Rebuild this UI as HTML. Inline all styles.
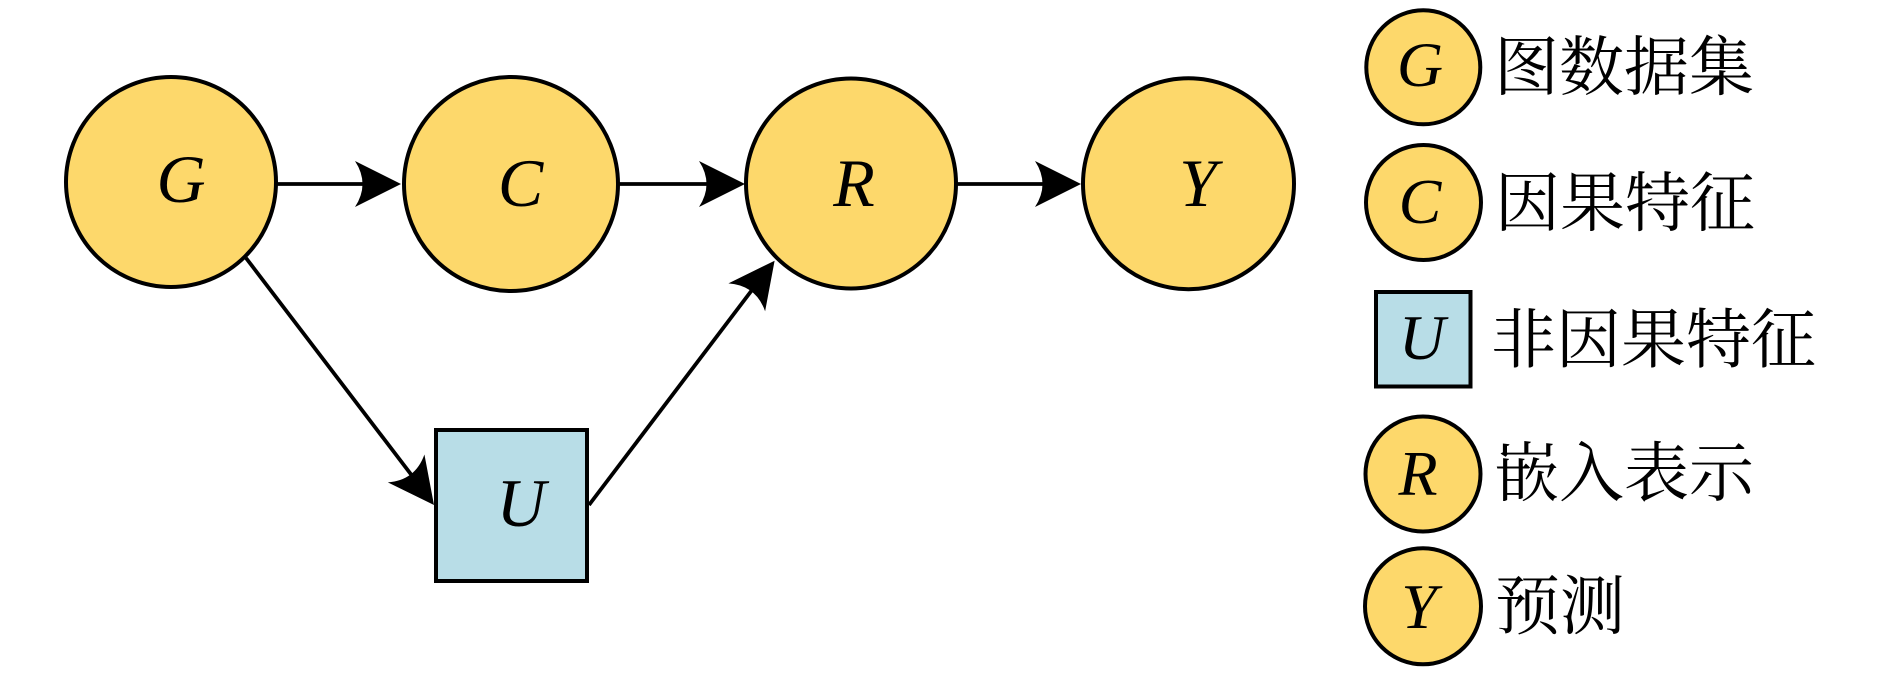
<!DOCTYPE html>
<html><head><meta charset="utf-8">
<style>
html,body{margin:0;padding:0;background:#fff;}
svg{display:block;}
</style></head>
<body>
<svg width="1890" height="676" viewBox="0 0 1890 676" xmlns="http://www.w3.org/2000/svg">
<defs>
<path id="ah" d="M0,0 L-46,-23 Q-31,0 -46,23 Z" fill="#000"/>
</defs>
<g stroke="#000" stroke-width="3.8" fill="none">
<line x1="277" y1="184" x2="370" y2="184"/>
<line x1="618" y1="184" x2="714" y2="184"/>
<line x1="956" y1="184" x2="1050" y2="184"/>
<line x1="246" y1="258" x2="413" y2="477"/>
<line x1="589" y1="505" x2="752" y2="290"/>
</g>
<use href="#ah" transform="translate(401,184)"/>
<use href="#ah" transform="translate(745,184)"/>
<use href="#ah" transform="translate(1081,184)"/>
<use href="#ah" transform="translate(434,505) rotate(52.7)"/>
<use href="#ah" transform="translate(774.6,260.7) rotate(-52.8)"/>

<g stroke="#000" stroke-width="4" fill="#FDD86B">
<circle cx="171" cy="182" r="105"/>
<circle cx="511" cy="184" r="107"/>
<circle cx="851" cy="183.5" r="105"/>
<circle cx="1188.5" cy="183.7" r="105.5"/>
<rect x="436" y="430" width="151" height="151" fill="#B8DDE7"/>
<circle cx="1423.3" cy="67.3" r="57"/>
<circle cx="1423.5" cy="202.5" r="57.5"/>
<rect x="1376" y="292" width="94.5" height="94.5" fill="#B8DDE7"/>
<circle cx="1423" cy="474" r="57.5"/>
<circle cx="1423" cy="606.3" r="58"/>
</g>

<g font-family="Liberation Serif, serif" font-style="italic" font-size="68" text-anchor="middle" fill="#000">
<text x="181" y="202">G</text>
<text x="520.5" y="206">C</text>
<text x="854" y="206">R</text>
<text x="1198" y="206">Y</text>
<text x="521" y="526">U</text>
</g>
<g font-family="Liberation Serif, serif" font-style="italic" font-size="64" text-anchor="middle" fill="#000">
<text x="1420" y="86">G</text>
<text x="1420" y="223">C</text>
<text x="1422" y="359">U</text>
<text x="1418" y="495">R</text>
<text x="1419" y="628">Y</text>
</g>
<g font-family="Noto Serif CJK SC, Noto Sans CJK SC, serif" font-size="65" fill="#000">
<text x="1494" y="89.5">图数据集</text>
<text x="1495" y="225.5">因果特征</text>
<text x="1491" y="362">非因果特征</text>
<text x="1494" y="495.5">嵌入表示</text>
<text x="1495" y="628.5">预测</text>
</g>
</svg>
</body></html>
